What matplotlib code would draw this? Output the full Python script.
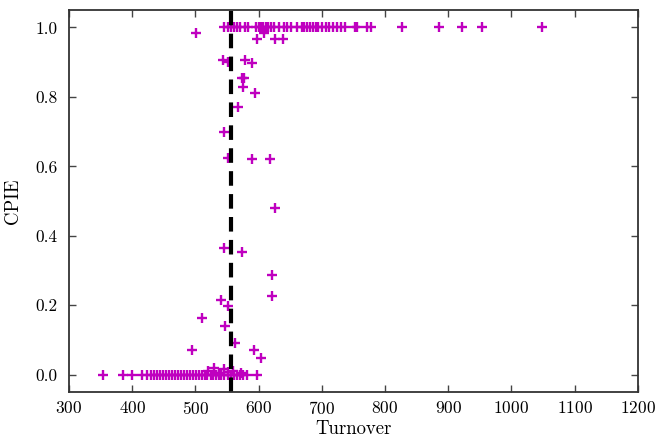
import matplotlib
matplotlib.use("Agg")
import matplotlib.pyplot as plt

plt.rcParams.update({
    "font.family": "serif",
    "font.serif": ["cmr10", "DejaVu Serif"],
    "mathtext.fontset": "cm",
    "axes.unicode_minus": False,
    "axes.formatter.use_mathtext": True,
    "font.size": 13,
})

# Turnover / CPIE observations
turnover_top = [546, 551, 556, 561, 566, 571, 579, 584, 596, 600, 603, 607, 611,
                615, 619, 624, 632, 640, 645, 652, 660, 668, 672, 676, 681, 686,
                690, 694, 700, 706, 712, 718, 724, 730, 736, 752, 756, 772, 778,
                827, 886, 922, 954, 1048]
cpie_top = [1.0] * len(turnover_top)

turnover_mid = [501, 598, 609, 626, 639,
                543, 551, 579, 590,
                574, 577, 575, 595, 568, 545, 552, 590, 618, 626,
                545, 573, 621, 621, 540, 551, 510, 547, 494, 593, 604, 562,
                520, 530, 538, 545, 552, 560, 572]
cpie_mid = [0.985, 0.966, 0.983, 0.966, 0.966,
            0.905, 0.900, 0.905, 0.898,
            0.855, 0.855, 0.830, 0.810, 0.770, 0.700, 0.623, 0.620, 0.620, 0.480,
            0.365, 0.353, 0.287, 0.227, 0.215, 0.198, 0.163, 0.140, 0.072, 0.072, 0.049, 0.090,
            0.010, 0.020, 0.005, 0.015, 0.008, 0.012, 0.004]

turnover_low = [354, 385, 400, 415, 424, 429, 434, 439, 444, 448, 453, 458, 463,
                468, 472, 477, 482, 487, 491, 496, 501, 506, 511, 515, 519, 524,
                528, 533, 537, 541, 546, 551, 556, 561, 566, 570, 575, 581, 598]
cpie_low = [0.0] * len(turnover_low)

threshold = 557

turnover = turnover_top + turnover_mid + turnover_low
cpie = cpie_top + cpie_mid + cpie_low

fig = plt.figure(figsize=(6.6, 4.4), dpi=100, facecolor="white")
ax = fig.add_axes([0.1045, 0.109, 0.862, 0.868])

ax.plot(turnover, cpie, linestyle="none", marker="+", color="#bf00bf",
        markersize=6.5, markeredgewidth=1.7)
ax.axvline(threshold, color="black", linestyle="--", linewidth=3,
           dashes=(3.5, 2))

ax.set_xlim(300, 1200)
ax.set_ylim(-0.05, 1.05)
ax.set_xticks(range(300, 1201, 100))
ax.set_yticks([0.0, 0.2, 0.4, 0.6, 0.8, 1.0])
ax.set_yticklabels(["0.0", "0.2", "0.4", "0.6", "0.8", "1.0"])
ax.tick_params(direction="in", top=True, right=True, length=5, width=1,
               color="#444444", labelsize=12.5)
ax.tick_params(axis="x", pad=6)
ax.tick_params(axis="y", pad=8)
for s in ax.spines.values():
    s.set_color("#333333")
    s.set_linewidth(1.3)

ax.set_xlabel("Turnover", fontsize=13.5, labelpad=2)
ax.set_ylabel("CPIE", fontsize=13.5, labelpad=10)

fig.savefig("out.png", dpi=100, facecolor="white")
